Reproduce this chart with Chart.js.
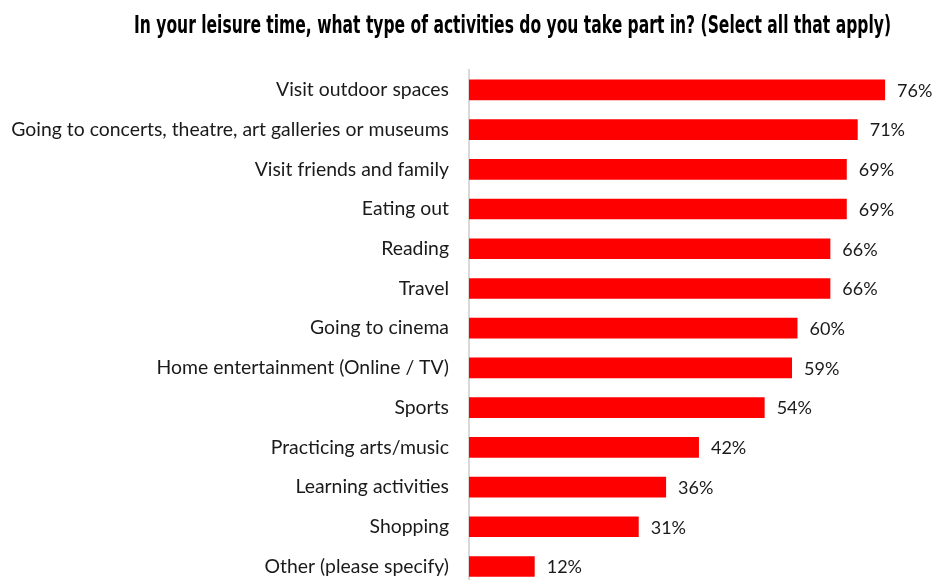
<!DOCTYPE html>
<html>
<head>
<meta charset="utf-8">
<script src="https://cdn.jsdelivr.net/npm/chart.js@4"></script>
<style>
  html, body { margin: 0; padding: 0; background: #fff; overflow: hidden; }
</style>
</head>
<body>
<canvas id="leisure" width="934" height="618"></canvas>
<script>
var titleText = "In your leisure time, what type of activities do you take part in? (Select all that apply)";
var activities = [
  "Visit outdoor spaces",
  "Going to concerts, theatre, art galleries or museums",
  "Visit friends and family",
  "Eating out",
  "Reading",
  "Travel",
  "Going to cinema",
  "Home entertainment (Online / TV)",
  "Sports",
  "Practicing arts/music",
  "Learning activities",
  "Shopping",
  "Other (please specify)"
];
var shares = [76, 71, 69, 69, 66, 66, 60, 59, 54, 42, 36, 31, 12];

// condensed heading: squeeze a bold face into the title's width
var titlePlugin = {
  id: "slideTitle",
  afterDraw: function(chart) {
    var ctx = chart.ctx;
    var left = 134, right = 891;
    ctx.save();
    ctx.font = "bold 25px 'DejaVu Sans', sans-serif";
    ctx.fillStyle = "#000";
    ctx.textAlign = "left";
    ctx.textBaseline = "alphabetic";
    var w = ctx.measureText(titleText).width;
    ctx.translate(left, 33);
    ctx.scale((right - left) / w, 1);
    ctx.fillText(titleText, 0, 0);
    ctx.restore();
  }
};

// percentage next to each bar
var valuePlugin = {
  id: "barValues",
  afterDatasetsDraw: function(chart) {
    var ctx = chart.ctx;
    var meta = chart.getDatasetMeta(0);
    ctx.save();
    ctx.font = "18px Lato, sans-serif";
    ctx.fillStyle = "#1a1a1a";
    ctx.textAlign = "left";
    ctx.textBaseline = "middle";
    meta.data.forEach(function(bar, i) {
      ctx.fillText(shares[i] + "%", bar.x + 12, bar.y + 1);
    });
    ctx.restore();
  }
};

var ctx = document.getElementById("leisure").getContext("2d");
var leisureChart = new Chart(ctx, {
  type: "bar",
  data: {
    labels: activities,
    datasets: [{
      data: shares,
      backgroundColor: "#ff0000",
      borderWidth: 0,
      categoryPercentage: 1,
      barPercentage: 0.52
    }]
  },
  options: {
    indexAxis: "y",
    responsive: false,
    animation: false,
    layout: { padding: { top: 70, right: 27, bottom: 0, left: 0 } },
    plugins: {
      legend: { display: false },
      tooltip: { enabled: false }
    },
    scales: {
      x: {
        display: false,
        min: 0,
        max: 80
      },
      y: {
        afterFit: function(scale) { scale.width = 469; },
        grid: { display: false, drawTicks: false },
        border: { display: true, color: "#d9d9d9", width: 2 },
        ticks: {
          padding: 20,
          color: "#1a1a1a",
          font: { family: "Lato, sans-serif", size: 19.4 }
        }
      }
    }
  },
  plugins: [titlePlugin, valuePlugin]
});
</script>
</body>
</html>
